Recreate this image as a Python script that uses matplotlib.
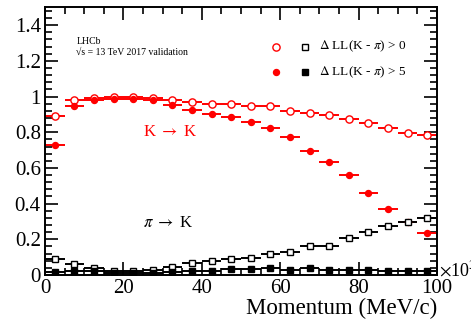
import numpy as np
import matplotlib
matplotlib.use("Agg")
import matplotlib.pyplot as plt
from matplotlib.ticker import MultipleLocator

# momentum bins (x10^3 MeV/c), bin width 5
bin_centers = [2.5, 7.5, 12.5, 17.5, 22.5, 27.5, 32.5, 37.5, 42.5, 47.5,
               52.5, 57.5, 62.5, 67.5, 72.5, 77.5, 82.5, 87.5, 92.5, 97.5]
bin_half_width = 2.5

# K -> K efficiency
k_dll0 = [0.889, 0.983, 0.990, 0.996, 0.996, 0.993, 0.983, 0.970, 0.961, 0.957,
          0.949, 0.946, 0.920, 0.906, 0.897, 0.875, 0.854, 0.826, 0.798, 0.783]
k_dll5 = [0.730, 0.946, 0.979, 0.987, 0.987, 0.978, 0.953, 0.927, 0.904, 0.884,
          0.858, 0.822, 0.774, 0.693, 0.636, 0.560, 0.461, 0.371, 0.296, 0.236]

# pi -> K misid rate
pi_dll0 = [0.092, 0.060, 0.041, 0.022, 0.020, 0.028, 0.047, 0.066, 0.079, 0.088,
           0.096, 0.120, 0.127, 0.163, 0.165, 0.210, 0.243, 0.275, 0.298, 0.320]
pi_dll5 = [0.017, 0.020, 0.020, 0.013, 0.010, 0.012, 0.015, 0.022, 0.022, 0.034,
           0.035, 0.037, 0.028, 0.041, 0.028, 0.030, 0.030, 0.025, 0.020, 0.020]

legend_labels = [r"$\Delta$ LL(K - $\pi$) > 0", r"$\Delta$ LL(K - $\pi$) > 5"]

plt.rcParams["font.family"] = ["Liberation Serif", "DejaVu Serif"]
plt.rcParams["mathtext.fontset"] = "stix"

fig = plt.figure(figsize=(4.71, 3.25), dpi=100)
ax = fig.add_axes([0.0955, 0.1538, 0.8325, 0.8237])

x = np.array(bin_centers)
eb = dict(xerr=bin_half_width, yerr=0.004, linestyle="none", elinewidth=1.4, capsize=0)

ax.errorbar(x, k_dll0, color="red", marker="o", markersize=5.2, mfc="white",
            mec="red", mew=1.0, **eb)
ax.errorbar(x, k_dll5, color="red", marker="o", markersize=4.3, mfc="red",
            mec="red", **eb)
ax.errorbar(x, pi_dll0, color="black", marker="s", markersize=5, mfc="white",
            mec="black", mew=1.0, **eb)
ax.errorbar(x, pi_dll5, color="black", marker="s", markersize=4.3, mfc="black",
            mec="black", **eb)

ax.set_xlim(0, 100)
ax.set_ylim(0, 1.5)
ax.xaxis.set_major_locator(MultipleLocator(20))
ax.xaxis.set_minor_locator(MultipleLocator(5))
ax.yaxis.set_major_locator(MultipleLocator(0.2))
ax.yaxis.set_minor_locator(MultipleLocator(0.04))
ax.yaxis.set_major_formatter(plt.FuncFormatter(lambda v, p: "%g" % round(v, 2)))
ax.tick_params(which="both", direction="in", top=True, right=True, width=1.2)
ax.tick_params(which="major", length=9.5, labelsize=15, pad=3)
ax.tick_params(which="minor", length=5)
for s in ax.spines.values():
    s.set_linewidth(1.4)

ax.set_xlabel("Momentum (MeV/c)", fontsize=16.5, loc="right", labelpad=0)
ax.text(1.006, 0.02, r"$\times$10$^3$", transform=ax.transAxes, fontsize=13,
        ha="left", va="center")

ax.text(0.082, 0.872, "LHCb", transform=ax.transAxes, fontsize=7, va="center")
ax.text(0.078, 0.830, "\u221as = 13 TeV 2017 validation", transform=ax.transAxes,
        fontsize=7, va="center")

ax.text(25, 0.80, r"K $\rightarrow$ K", color="red", fontsize=12, va="center")
ax.text(25, 0.294, r"$\pi$ $\rightarrow$ K", color="black", fontsize=12, va="center")

# legend drawn by hand in axes coordinates
ax.plot([0.588], [0.853], "o", color="red", mfc="white", markersize=5.2, transform=ax.transAxes)
ax.plot([0.662], [0.853], "s", color="black", mfc="white", markersize=4.8, transform=ax.transAxes)
ax.plot([0.588], [0.757], "o", color="red", markersize=4.3, transform=ax.transAxes)
ax.plot([0.662], [0.757], "s", color="black", markersize=4.3, transform=ax.transAxes)
ax.text(0.70, 0.853, legend_labels[0], transform=ax.transAxes, fontsize=9.5, va="center")
ax.text(0.70, 0.757, legend_labels[1], transform=ax.transAxes, fontsize=9.5, va="center")

fig.savefig("out.png", dpi=100)
